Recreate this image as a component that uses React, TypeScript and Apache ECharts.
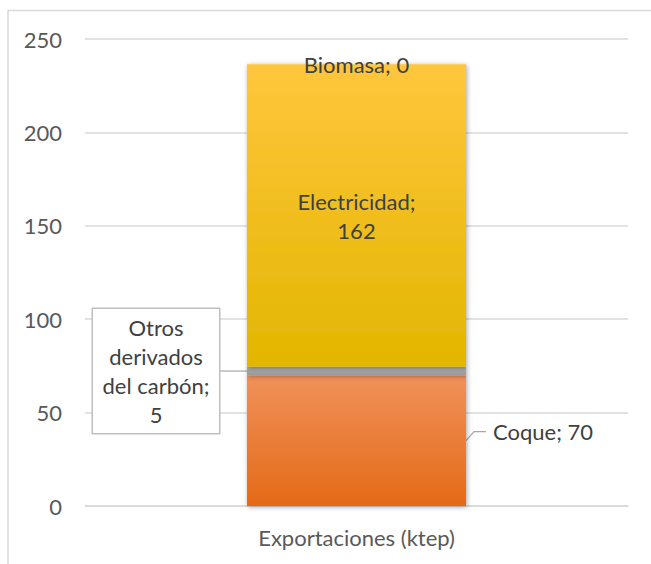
import React, { useEffect, useRef } from "react";
import * as echarts from "echarts";

const categories = ["Exportaciones (ktep)"];
const seriesNames = ["Coque", "Otros derivados del carbón", "Electricidad", "Biomasa"];
const coque = [70];
const otros = [4.5];
const electricidad = [162];
const biomasa = [0];
const yTicks = { min: 0, max: 250, interval: 50 };

const FONT = "Lato";
const FS = 22;
const TXT = "#595959";
const LBL = "#404040";

export default function App() {
  const ref = useRef<HTMLDivElement>(null);
  useEffect(() => {
    const chart = echarts.init(ref.current!, null, { renderer: "svg" });
    const shadow = { shadowBlur: 5, shadowColor: "rgba(0,0,0,0.35)", shadowOffsetX: 1, shadowOffsetY: 1 };
    const grad = (a: string, b: string) =>
      new echarts.graphic.LinearGradient(0, 0, 0, 1, [
        { offset: 0, color: a },
        { offset: 1, color: b },
      ]);
    const fmt = (p: any) => `${p.seriesName}; ${Math.round(p.value)}`;
    const BAR_W = 219;
    chart.setOption({
      animation: false,
      textStyle: { fontFamily: FONT },
      grid: { left: 85, right: 23, top: 39, bottom: 58 },
      xAxis: {
        type: "category",
        data: categories,
        axisLine: { lineStyle: { color: "#D9D9D9", width: 1.5 } },
        axisTick: { show: false },
        axisLabel: { color: TXT, fontSize: FS, fontFamily: FONT, margin: 20 },
      },
      yAxis: {
        type: "value",
        ...yTicks,
        axisLine: { show: false },
        axisTick: { show: false },
        splitLine: { lineStyle: { color: "#D9D9D9", width: 1.5 } },
        axisLabel: { color: TXT, fontSize: FS, fontFamily: FONT, margin: 23 },
      },
      series: [
        {
          name: seriesNames[0],
          type: "bar",
          stack: "s",
          barWidth: BAR_W,
          data: coque,
          itemStyle: { color: grad("#F0915A", "#E46A17"), ...shadow },
          label: {
            show: true,
            position: "right",
            distance: 27,
            offset: [0, -9],
            formatter: fmt,
            color: LBL,
            fontSize: FS,
            fontFamily: FONT,
          },
        },
        {
          name: seriesNames[1],
          type: "bar",
          stack: "s",
          data: otros,
          itemStyle: { color: grad("#ABABAB", "#9A9A9A"), ...shadow },
          label: {
            show: true,
            position: "left",
            distance: 28 + 63,
            formatter: (p: any) => `Otros\nderivados\ndel carbón;\n${Math.round(p.value)}`,
            color: LBL,
            fontSize: FS,
            fontFamily: FONT,
            lineHeight: 29,
            align: "center",
            verticalAlign: "middle",
            width: 110,
            backgroundColor: "#FFFFFF",
            borderColor: "#BFBFBF",
            borderWidth: 1.5,
            padding: [4, 8, 4, 8],
          },
        },
        {
          name: seriesNames[2],
          type: "bar",
          stack: "s",
          data: electricidad,
          itemStyle: { color: grad("#FFC63D", "#E2B600"), ...shadow },
          label: {
            show: true,
            position: "inside",
            formatter: (p: any) => `${p.seriesName};\n${Math.round(p.value)}`,
            color: LBL,
            fontSize: FS,
            fontFamily: FONT,
            lineHeight: 29,
          },
        },
        {
          name: seriesNames[3],
          type: "bar",
          stack: "s",
          data: biomasa,
          itemStyle: { color: "#FFC000" },
          label: {
            show: true,
            position: "inside",
            formatter: fmt,
            color: LBL,
            fontSize: FS,
            fontFamily: FONT,
          },
        },
      ],
    });

    // leader lines computed from the chart's own scales
    const cCoque = chart.convertToPixel({ seriesIndex: 0 }, [0, coque[0] / 2]) as number[];
    const cOtros = chart.convertToPixel({ seriesIndex: 0 }, [0, coque[0] + otros[0] / 2]) as number[];
    const half = BAR_W / 2;
    chart.setOption({
      graphic: [
        {
          type: "rect",
          shape: { x: 8, y: 10.5, width: 700, height: 600 },
          style: { fill: "none", stroke: "#D9D9D9", lineWidth: 1.5 },
          silent: true,
        },
        {
          type: "polyline",
          shape: {
            points: [
              [cCoque[0] + half, cCoque[1]],
              [cCoque[0] + half + 8, cCoque[1] - 9],
              [cCoque[0] + half + 20, cCoque[1] - 9],
            ],
          },
          style: { fill: "none", stroke: "#A6A6A6", lineWidth: 1.2 },
          silent: true,
        },
        {
          type: "line",
          shape: { x1: cOtros[0] - half - 28, y1: cOtros[1], x2: cOtros[0] - half, y2: cOtros[1] },
          style: { stroke: "#A6A6A6", lineWidth: 1.2 },
          silent: true,
        },
      ],
    });
    return () => chart.dispose();
  }, []);
  return (
    <div
      ref={ref}
      style={{ position: "fixed", left: 0, top: 0, width: 651, height: 564, background: "#fff" }}
    />
  );
}
